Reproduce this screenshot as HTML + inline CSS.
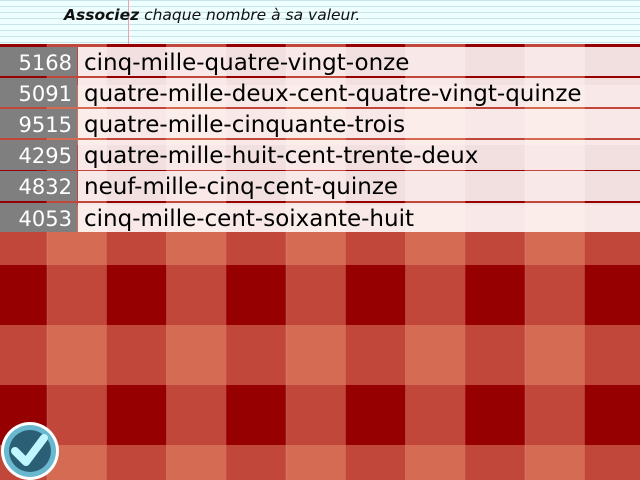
<!DOCTYPE html>
<html><head><meta charset="utf-8"><style>
body{margin:0;width:640px;height:480px;overflow:hidden;position:relative;font-family:"DejaVu Sans","Liberation Sans",sans-serif;}
#hdr{position:absolute;left:0;top:0;width:640px;height:44px;background:#eefeff repeating-linear-gradient(to bottom,#c8e4e8 0,#c8e4e8 1px,transparent 1px,transparent 6px);}
#vl{position:absolute;left:128px;top:0;width:1px;height:44px;background:#f0a0a8;}
#title{position:absolute;left:64px;top:6px;font-size:15.5px;font-style:italic;color:#111;font-family:"DejaVu Sans",sans-serif;}
.row{position:absolute;left:0;width:640px;height:29.5px;}
.num{position:absolute;left:0;top:0;width:77px;height:29.5px;background:#7f7f7f;color:#fff;font-size:21px;line-height:33px;text-align:right;box-sizing:border-box;padding-right:5px;overflow:hidden;}
.txt{position:absolute;left:78px;top:0;right:0;height:29.5px;background:rgba(255,255,255,0.88);color:#000;font-size:23px;line-height:33px;padding-left:6px;white-space:nowrap;overflow:hidden;}
</style></head><body>
<svg style="position:absolute;left:0;top:0" width="640" height="480">
<defs><pattern id="p" x="-12.7" y="25" width="119.5" height="120" patternUnits="userSpaceOnUse">
<rect x="0" y="0" width="59.75" height="60" fill="#960000"/>
<rect x="59.75" y="0" width="59.75" height="60" fill="#c0473a"/>
<rect x="0" y="60" width="59.75" height="60" fill="#c0473a"/>
<rect x="59.75" y="60" width="59.75" height="60" fill="#d46b52"/>
</pattern></defs>
<rect width="640" height="480" fill="url(#p)"/>
</svg>
<div id="hdr"></div><div id="vl"></div>
<div id="title"><b>Associez</b> chaque nombre à sa valeur.</div>
<div class="row" style="top:46.5px"><div class="num">5168</div><div class="txt">cinq-mille-quatre-vingt-onze</div></div>
<div class="row" style="top:77.7px"><div class="num">5091</div><div class="txt">quatre-mille-deux-cent-quatre-vingt-quinze</div></div>
<div class="row" style="top:108.9px"><div class="num">9515</div><div class="txt">quatre-mille-cinquante-trois</div></div>
<div class="row" style="top:140.1px"><div class="num">4295</div><div class="txt">quatre-mille-huit-cent-trente-deux</div></div>
<div class="row" style="top:171.3px"><div class="num">4832</div><div class="txt">neuf-mille-cinq-cent-quinze</div></div>
<div class="row" style="top:202.5px"><div class="num">4053</div><div class="txt">cinq-mille-cent-soixante-huit</div></div>
<svg style="position:absolute;left:0;top:418px" width="64" height="62">
<circle cx="30" cy="33" r="29" fill="#fff"/>
<circle cx="30" cy="33" r="26" fill="#6ab8cf"/>
<circle cx="30" cy="33" r="21" fill="#2b5f75"/>
<path d="M15 33 L26 44 L44 20" stroke="#bff6ff" stroke-width="8" fill="none" stroke-linecap="round" stroke-linejoin="round"/>
</svg>
</body></html>
